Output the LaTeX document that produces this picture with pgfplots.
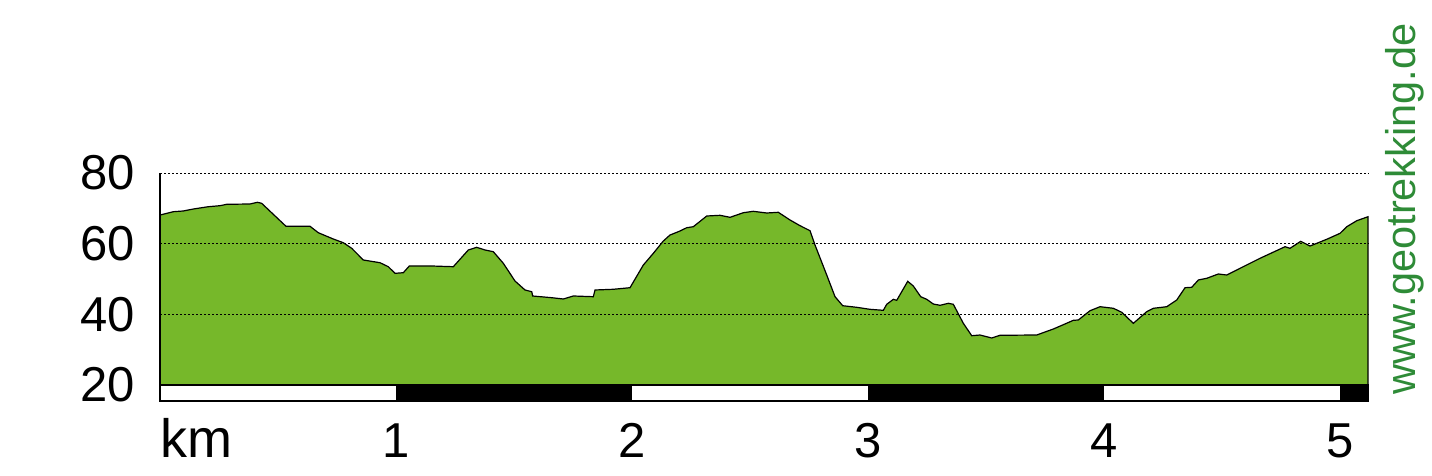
\documentclass[border=0pt]{standalone}
\usepackage{pgfplots}
\pgfplotsset{compat=1.18}
\usepackage{fontspec}
\setmainfont{Liberation Sans}
\definecolor{fillgreen}{RGB}{118,184,42}
\definecolor{textgreen}{RGB}{46,139,55}
\begin{document}
\begin{tikzpicture}
\path[use as bounding box] (0pt,0pt) rectangle (1432pt,-476pt);
\begin{axis}[
 at={(160pt,-401pt)}, anchor=south west,
 scale only axis, width=1208pt, height=228pt,
 xmin=0, xmax=5.1186, ymin=15.47, ymax=80,
 clip=false, axis on top,
 axis line style={draw=none},
 major tick length=0pt,
 xtick={1,2,3,4,5},
 ytick={20,40,60,80},
 ymajorgrids,
 grid style={black, line width=0.8pt, dash pattern=on 1.5pt off 2.5pt},
 /pgf/number format/assume math mode=true,
 ticklabel style={font=\fontsize{49}{49}\selectfont, inner sep=0pt},
 xticklabel style={anchor=base, yshift=-56pt},
 yticklabel style={anchor=east, xshift=-25pt},
]
\addplot[fill=fillgreen, draw=black, line width=1.2pt] coordinates {
(0,68.11) (0.0564,69.05) (0.0987,69.25) (0.1411,69.81) (0.2047,70.46) (0.2542,70.75)
(0.2826,71.14) (0.3814,71.23) (0.4123,71.71) (0.4309,71.42) (0.4801,68.31) (0.5339,64.92)
(0.6356,64.92) (0.6708,63.10) (0.7343,61.32) (0.7767,60.27) (0.8123,58.69) (0.8614,55.38)
(0.9322,54.61) (0.9674,53.48) (0.9958,51.61) (1.0309,51.78) (1.0564,53.68) (1.1513,53.68)
(1.2428,53.48) (1.3064,58.21) (1.3419,58.97) (1.3771,58.21) (1.4123,57.73) (1.4547,54.44)
(1.5042,49.43) (1.5466,46.89) (1.5750,46.41) (1.5792,45.19) (1.6597,44.71) (1.7089,44.34)
(1.7513,45.19) (1.8360,44.99) (1.8432,46.89) (1.9208,47.09) (1.9915,47.54) (2.0479,53.96)
(2.0903,57.27) (2.1326,60.75) (2.1610,62.45) (2.2034,63.59) (2.2318,64.52) (2.2597,64.80)
(2.3165,67.83) (2.3729,68.03) (2.4153,67.46) (2.4716,68.76) (2.5140,69.16) (2.5708,68.68)
(2.6199,68.88) (2.6695,66.70) (2.7119,65.09) (2.7542,63.67) (2.7754,59.62) (2.8250,51.13)
(2.8602,44.99) (2.8928,42.44) (2.9521,41.99) (3.0085,41.42) (3.0648,41.14) (3.0792,42.84)
(3.1072,44.25) (3.1216,43.97) (3.1682,49.35) (3.1919,48.02) (3.2233,44.99) (3.2487,44.25)
(3.2767,42.92) (3.3051,42.56) (3.3403,43.12) (3.3614,42.84) (3.4038,37.46) (3.4394,33.95)
(3.4746,34.15) (3.5242,33.30) (3.5593,34.07) (3.7148,34.15) (3.7852,35.85) (3.8275,37.07)
(3.8699,38.31) (3.8911,38.40) (3.9407,41.03) (3.9831,42.16) (4.0394,41.71) (4.0750,40.58)
(4.1242,37.46) (4.1809,40.75) (4.2089,41.71) (4.2657,42.16) (4.3081,44.06) (4.3432,47.54)
(4.3716,47.65) (4.3996,49.72) (4.4352,50.20) (4.4843,51.42) (4.5199,51.13) (4.5763,53.03)
(4.6610,55.86) (4.7669,59.14) (4.7881,58.69) (4.8335,60.67) (4.8729,59.34) (4.9436,61.24)
(5.0000,62.93) (5.0284,64.80) (5.0708,66.50) (5.1186,67.63)
(5.1186,20) (0,20)} -- cycle;
\addplot[fill=black, draw=none] coordinates {(1,15.47) (2,15.47) (2,20) (1,20)} -- cycle;
\addplot[fill=black, draw=none] coordinates {(3,15.47) (4,15.47) (4,20) (3,20)} -- cycle;
\addplot[fill=black, draw=none] coordinates {(5,15.47) (5.1186,15.47) (5.1186,20) (5,20)} -- cycle;
\draw[line width=1.2pt] (axis cs:0,15.47) rectangle (axis cs:5.1186,20);
\draw[line width=1.2pt] (axis cs:0,15.47) -- (axis cs:0,80);
\end{axis}
\node[anchor=base west, inner sep=0pt, font=\fontsize{54}{54}\selectfont] at (160pt,-457pt) {km};
\node[rotate=90, anchor=base west, inner sep=0pt, font=\fontsize{41.5}{41.5}\selectfont, text=textgreen] at (1415pt,-395pt) {www.geotrekking.de};
\end{tikzpicture}
\end{document}
